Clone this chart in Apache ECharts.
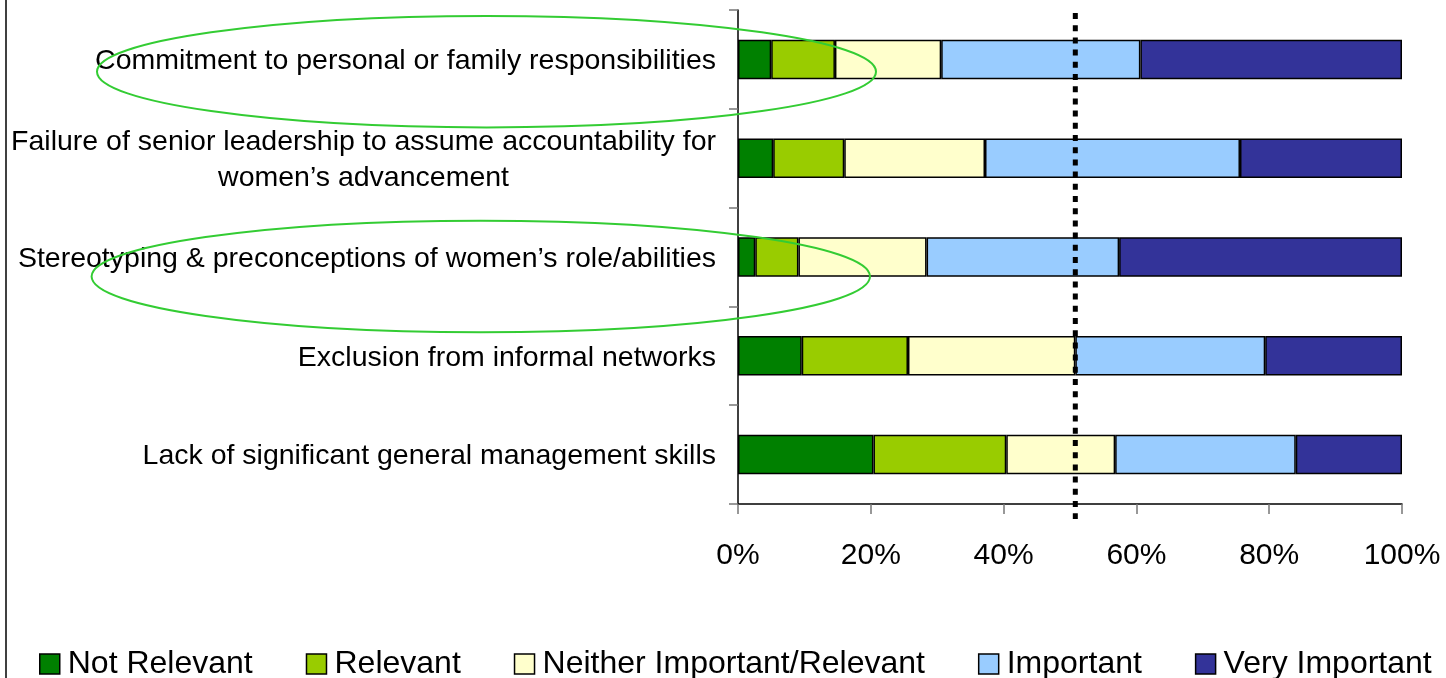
<!DOCTYPE html>
<html>
<head>
<meta charset="utf-8">
<script src="https://cdn.jsdelivr.net/npm/echarts@6/dist/echarts.min.js"></script>
<style>
html,body{margin:0;padding:0;background:#fff;}
#chart{width:1446px;height:678px;}
</style>
</head>
<body>
<div id="chart"></div>
<script>
// ---- data ----
const categories = [
  "Commitment to personal or family responsibilities",
  "Failure of senior leadership to assume accountability for\nwomen\u2019s advancement",
  "Stereotyping & preconceptions of women\u2019s role/abilities",
  "Exclusion from informal networks",
  "Lack of significant general management skills"
];
const seriesNames = ["Not Relevant", "Relevant", "Neither Important/Relevant", "Important", "Very Important"];
const notRelevant = [5.0, 5.3, 2.6, 9.6, 20.4];
const relevant    = [9.6, 10.7, 6.5, 16.0, 20.0];
const neither     = [16.0, 21.2, 19.3, 25.2, 16.4];
const important   = [30.0, 38.4, 29.0, 28.6, 27.2];
const veryImportant = [39.4, 24.4, 42.6, 20.6, 16.0];
const xTicks = [0, 20, 40, 60, 80, 100];
const referenceLineValue = 50.8;

const colors = ["#008000", "#99CC00", "#FFFFCC", "#99CCFF", "#333399"];
const seriesData = [notRelevant, relevant, neither, important, veryImportant];
const FONT = "'Liberation Sans', Arial, sans-serif";

const chart = echarts.init(document.getElementById('chart'), null, {renderer: 'canvas'});

const series = seriesNames.map((name, i) => ({
  name: name,
  type: 'bar',
  stack: 'total',
  barWidth: '40%',
  data: seriesData[i],
  itemStyle: {color: colors[i], borderColor: '#000', borderWidth: 1.5},
  emphasis: {disabled: true},
  animation: false
}));

chart.setOption({
  animation: false,
  textStyle: {fontFamily: FONT},
  grid: {left: 738, right: 44, top: 10, bottom: 174, containLabel: false},
  xAxis: {
    type: 'value',
    min: xTicks[0],
    max: xTicks[xTicks.length - 1],
    interval: xTicks[1] - xTicks[0],
    axisLine: {show: true, lineStyle: {color: '#000', width: 1.5}},
    axisTick: {show: true, length: 10, lineStyle: {color: '#777', width: 1.5}},
    splitLine: {show: false},
    axisLabel: {formatter: '{value}%', fontSize: 30, color: '#000', margin: 37, fontFamily: FONT}
  },
  yAxis: {
    type: 'category',
    inverse: true,
    data: categories,
    axisLine: {show: true, lineStyle: {color: '#000', width: 1.5}},
    axisTick: {show: true, length: 9, lineStyle: {color: '#777', width: 1.5}},
    axisLabel: {
      margin: 22,
      color: '#000',
      fontSize: 28.5,
      fontFamily: FONT,
      formatter: function (v) {
        return v.split('\n').map(s => '{c|' + s + '}').join('\n');
      },
      rich: {c: {fontSize: 28.5, fontFamily: FONT, color: '#000', align: 'center', lineHeight: 36, padding: [4, 0, 0, 0]}}
    }
  },
  legend: {
    left: 39,
    top: 648,
    right: 0,
    padding: 0,
    itemWidth: 20,
    itemHeight: 20,
    itemGap: 53,
    icon: 'rect',
    itemStyle: {borderColor: '#000', borderWidth: 1.5},
    textStyle: {fontSize: 32, color: '#000', fontFamily: FONT, padding: [0, 0, 0, 3]},
    selectedMode: false,
    data: seriesNames
  },
  series: series
});

// reference line and annotations
const refX = chart.convertToPixel({xAxisIndex: 0}, referenceLineValue);
chart.setOption({
  graphic: [
    {type: 'line', shape: {x1: 6, y1: 0, x2: 6, y2: 678}, style: {stroke: '#000', lineWidth: 1.5}, silent: true},
    {type: 'line', shape: {x1: refX, y1: 13, x2: refX, y2: 519}, style: {stroke: '#000', lineWidth: 5, lineDash: [6, 6.2]}, silent: true, z: 100},
    {type: 'ellipse', shape: {cx: 486.5, cy: 71.7, rx: 389.5, ry: 55.7}, style: {fill: 'none', stroke: '#33CC33', lineWidth: 2}, silent: true, z: 100},
    {type: 'ellipse', shape: {cx: 480.8, cy: 276.5, rx: 389.2, ry: 55.8}, style: {fill: 'none', stroke: '#33CC33', lineWidth: 2}, silent: true, z: 100}
  ]
});
</script>
</body>
</html>
